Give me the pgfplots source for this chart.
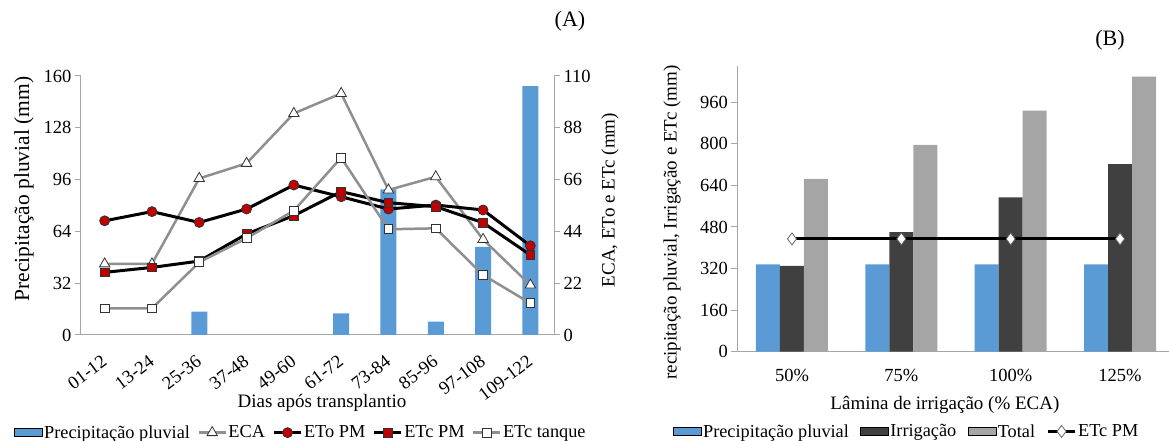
\documentclass[border=0pt]{standalone}
\usepackage{pgfplots}
\pgfplotsset{compat=1.18}
\usepackage{fontspec}
\setmainfont{Liberation Serif}
\definecolor{cblue}{HTML}{5B9BD5}
\definecolor{cdark}{HTML}{404040}
\definecolor{clight}{HTML}{A5A5A5}
\definecolor{cgrayline}{HTML}{8F8F8F}
\definecolor{cred}{HTML}{C00000}
\definecolor{axgray}{HTML}{A6A6A6}
\newcommand\fT{\fontsize{18.5}{20}\selectfont}
\newcommand\fL{\fontsize{19}{21}\selectfont}
\newcommand\fG{\fontsize{18.3}{20}\selectfont}
\pgfplotsset{
  myaxis/.style={
    scale only axis,
    /pgf/number format/assume math mode=true,
    axis line style={axgray, line width=1pt, -},
    every inner x axis line/.append style={-},
    every inner y axis line/.append style={-},
    every outer x axis line/.append style={-},
    every outer y axis line/.append style={-},
    tick align=outside,
    major tick length=6pt,
    tick style={axgray, line width=1pt},
    ticklabel style={font=\fT},
    label style={font=\fL},
    clip=false,
  },
  linelegend/.style={legend image code/.code={
    \draw[##1, mark repeat=2, mark phase=2] plot coordinates {(0pt,0pt) (13.5pt,0pt) (27pt,0pt)};}},
  barlegend/.style={legend image code/.code={
    \fill[##1] (0pt,-4pt) rectangle (28pt,4pt);}},
}
\begin{document}
\begin{tikzpicture}[x=1pt,y=1pt]
\useasboundingbox (0,0) rectangle (1169,441);

% ---------------- Panel A: bars (left axis) ----------------
\begin{axis}[myaxis,
  at={(81pt,106pt)}, anchor=south west, width=473pt, height=259pt,
  xmin=-0.5, xmax=9.5, ymin=0, ymax=160,
  axis x line*=bottom, axis y line*=left,
  ytick={0,32,64,96,128,160},
  xtick={0,...,9},
  xticklabels={01-12,13-24,25-36,37-48,49-60,61-72,73-84,85-96,97-108,109-122},
  x tick label style={xshift=-4pt, yshift=-13pt, rotate=37, anchor=north east, inner sep=0pt},
  x tick style={draw=none},
  xlabel={Dias após transplantio},
  xlabel style={at={(axis description cs:0.5095,-0.264)}, anchor=center},
  ylabel={Precipitação pluvial (mm)},
  ylabel style={at={(axis description cs:-0.1205,0.5637)}, anchor=center, font=\fontsize{21.5}{23}\selectfont},
]
\addplot[ybar, bar width=16pt, fill=cblue, draw=none] coordinates {
  (0,0) (1,0) (2,14.4) (3,0) (4,0) (5,13.4) (6,90) (7,8.2) (8,54.5) (9,153.8)};
\end{axis}

% ---------------- Panel A: lines (right axis) ----------------
\begin{axis}[myaxis,
  at={(81pt,106pt)}, anchor=south west, width=473pt, height=259pt,
  xmin=-0.5, xmax=9.5, ymin=0, ymax=110,
  axis y line*=right, axis x line=none,
  ytick={0,22,44,66,88,110},
  ylabel={ECA, ETo e ETc (mm)},
  ylabel style={at={(axis description cs:1.1184,0.521)}, anchor=center},
  legend columns=5,
  legend style={at={(axis description cs:-0.1416,-0.377)}, anchor=west, draw=none, fill=none,
    font=\fG, inner sep=0pt,
    nodes={inner xsep=1.5pt, inner ysep=0pt},
    /tikz/every even column/.append style={column sep=6pt}},
]
\addlegendimage{barlegend, fill=cblue}
\addlegendentry{Precipitação pluvial}
\addplot[linelegend, cgrayline, line width=2.5pt, mark=triangle*, mark size=6pt,
  mark options={fill=white, draw=black!80, line width=0.8pt}] coordinates {
  (0,30.2) (1,30.2) (2,66.5) (3,72.9) (4,94.1) (5,102.6) (6,61.6) (7,67.2) (8,40.6) (9,21.2)};
\addlegendentry{ECA}
\addplot[linelegend, black, line width=3pt, mark=*, mark size=5pt,
  mark options={fill=cred, draw=black!80, line width=0.8pt}] coordinates {
  (0,48.5) (1,52.4) (2,47.8) (3,53.5) (4,63.7) (5,58.7) (6,53.5) (7,55.2) (8,53.1) (9,37.9)};
\addlegendentry{ETo PM}
\addplot[linelegend, black, line width=3pt, mark=square*, mark size=4.4pt,
  mark options={fill=cred, draw=black!80, line width=0.8pt}] coordinates {
  (0,26.6) (1,28.7) (2,31.4) (3,42.9) (4,50.7) (5,60.9) (6,56.2) (7,54.5) (8,47.7) (9,34.0)};
\addlegendentry{ETc PM}
\addplot[linelegend, cgrayline, line width=2.5pt, mark=square*, mark size=4.4pt,
  mark options={fill=white, draw=black!80, line width=0.8pt}] coordinates {
  (0,11.3) (1,11.3) (2,30.9) (3,41.1) (4,52.8) (5,75.3) (6,44.9) (7,45.3) (8,25.5) (9,13.5)};
\addlegendentry{ETc tanque}
\end{axis}

\node[font=\fontsize{22}{24}\selectfont] at (570,420) {(A)};

% ---------------- Panel B ----------------
\begin{axis}[myaxis,
  at={(737.3pt,89.3pt)}, anchor=south west, width=431.7pt, height=285.8pt,
  xmin=-0.5, xmax=3.448, ymin=0, ymax=1100,
  axis x line*=bottom, axis y line*=left,
  ytick={0,160,320,480,640,800,960},
  xtick={0,1,2,3}, xticklabels={50\%,75\%,100\%,125\%},
  x tick style={draw=none},
  x tick label style={yshift=-8pt},
  xlabel={Lâmina de irrigação (\% ECA)},
  xlabel style={at={(axis description cs:0.481,-0.1865)}, anchor=center},
  ylabel={recipitação pluvial, Irrigação e ETc (mm)},
  ylabel style={at={(axis description cs:-0.1513,0.452)}, anchor=center},
  legend columns=4,
  legend style={at={(axis description cs:-0.149,-0.279)}, anchor=west, draw=none, fill=none,
    font=\fG, inner sep=0pt,
    nodes={inner xsep=1.5pt, inner ysep=0pt},
    /tikz/every even column/.append style={column sep=10pt}},
]
\addlegendimage{barlegend, fill=cblue}
\addlegendentry{Precipitação pluvial}
\addlegendimage{barlegend, fill=cdark}
\addlegendentry{Irrigação}
\addlegendimage{barlegend, fill=clight}
\addlegendentry{Total}
\addlegendimage{linelegend, black, line width=3pt, mark=diamond*, mark size=6pt,
  mark options={fill=white, draw=black!60, line width=0.8pt}}
\addlegendentry{ETc PM}
\addplot[forget plot, ybar, bar width=24pt, bar shift=-24pt, fill=cblue, draw=none] coordinates {
  (0,336) (1,336) (2,336) (3,336)};
\addplot[forget plot, ybar, bar width=24pt, bar shift=0pt, fill=cdark, draw=none] coordinates {
  (0,330) (1,460) (2,594) (3,722)};
\addplot[forget plot, ybar, bar width=24pt, bar shift=24pt, fill=clight, draw=none] coordinates {
  (0,665) (1,796) (2,928) (3,1059)};
\addplot[forget plot, black, line width=3pt, mark=diamond*, mark size=6pt,
  mark options={fill=white, draw=black!60, line width=0.8pt}] coordinates {
  (0,434) (1,434) (2,434) (3,434)};
\end{axis}

\node[font=\fontsize{22}{24}\selectfont] at (1110,401) {(B)};
\end{tikzpicture}
\end{document}
